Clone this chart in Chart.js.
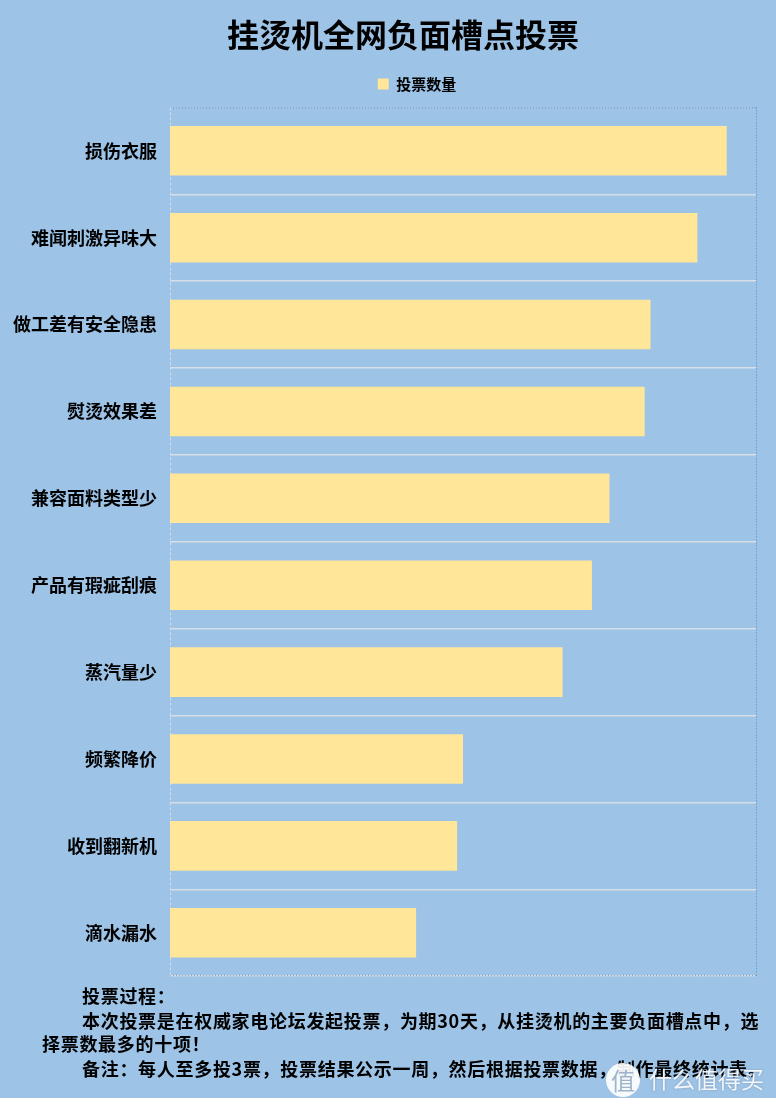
<!DOCTYPE html>
<html lang="zh">
<head>
<meta charset="utf-8">
<title>挂烫机全网负面槽点投票</title>
<script src="https://cdn.jsdelivr.net/npm/chart.js"></script>
<style>
  body { margin: 0; background: #9DC3E6; width: 776px; height: 1108px; position: relative; overflow: hidden;
         font-family: "Noto Sans CJK SC", sans-serif; }
  #wrap { position: absolute; left: 0; top: 0; width: 776px; height: 1000px; }
  .note { position: absolute; font-size: 18px; font-weight: bold; line-height: 24px; color: #000;
          letter-spacing: 0.7px; white-space: nowrap; }
  #strip { position: absolute; left: 0; top: 1098px; width: 776px; height: 10px; background: #fff; }
  #logo { position: absolute; left: 606px; top: 1063px; width: 34px; height: 34px; border-radius: 50%;
          background: rgba(255,255,255,0.92); color: #9DB4CC; font-size: 24px; line-height: 34px; text-align: center; }
  #brand { position: absolute; left: 649px; top: 1063px; font-size: 23px; line-height: 30px; color: rgba(255,255,255,0.9);
           text-shadow: 0 0 2px rgba(90,110,140,0.5); }
</style>
</head>
<body>
<div id="wrap"><canvas id="myChart"></canvas></div>
<div class="note" style="left:82px; top:983px;">投票过程：</div>
<div class="note" style="left:82px; top:1008px;">本次投票是在权威家电论坛发起投票，为期30天，从挂烫机的主要负面槽点中，选</div>
<div class="note" style="left:42px; top:1031px;">择票数最多的十项！</div>
<div class="note" style="left:82px; top:1056px;">备注：每人至多投3票，投票结果公示一周，然后根据投票数据，制作最终统计表。</div>
<div id="strip"></div>
<div id="logo">值</div>
<div id="brand">什么值得买</div>
<script>
const categories = [
  "损伤衣服",
  "难闻刺激异味大",
  "做工差有安全隐患",
  "熨烫效果差",
  "兼容面料类型少",
  "产品有瑕疵刮痕",
  "蒸汽量少",
  "频繁降价",
  "收到翻新机",
  "滴水漏水",
];
const votes = [95, 90, 82, 81, 75, 72, 67, 50, 49, 42];
const seriesName = "投票数量";

const font = "'Noto Sans CJK SC', sans-serif";

// dotted / dashed frame round the plot area; title and legend nudged like the original
const frame = {
  id: "frame",
  afterLayout(chart) {
    chart.titleBlock.left += 21;
    chart.titleBlock.right += 21;
    chart.legend.left += 35;
    chart.legend.right += 35;
    chart.legend.top -= 6;
    chart.legend.bottom -= 6;
  },
  beforeDatasetsDraw(chart) {
    const { ctx, chartArea: a } = chart;
    ctx.save();
    ctx.lineWidth = 1;
    ctx.setLineDash([1, 2]);
    ctx.strokeStyle = "#8296ad";
    ctx.beginPath();
    ctx.moveTo(a.left, a.top + 0.5);
    ctx.lineTo(a.right, a.top + 0.5);
    ctx.moveTo(a.left, a.bottom - 0.5);
    ctx.lineTo(a.right, a.bottom - 0.5);
    ctx.stroke();
    ctx.strokeStyle = "#4a8ad0";
    ctx.beginPath();
    ctx.moveTo(a.right + 0.5, a.top);
    ctx.lineTo(a.right + 0.5, a.bottom);
    ctx.stroke();
    ctx.setLineDash([3, 2]);
    ctx.strokeStyle = "#d4dbe4";
    ctx.beginPath();
    ctx.moveTo(a.left + 0.5, a.top);
    ctx.lineTo(a.left + 0.5, a.bottom);
    ctx.stroke();
    ctx.restore();
  },
};

const ctx = document.getElementById("myChart");

new Chart(ctx, {
  type: "bar",
  data: {
    labels: categories,
    datasets: [
      {
        label: seriesName,
        data: votes,
        backgroundColor: "#FFE699",
        borderWidth: 0,
        categoryPercentage: 1,
        barPercentage: 0.57,
      },
    ],
  },
  options: {
    indexAxis: "y",
    responsive: true,
    maintainAspectRatio: false,
    animation: false,
    layout: {
      padding: { left: 8, right: 20, top: 0, bottom: 10 },
    },
    scales: {
      x: {
        display: false,
        min: 0,
        max: 100,
      },
      y: {
        afterFit(scale) {
          scale.width = 162;
        },
        border: { display: false },
        grid: {
          drawTicks: false,
          lineWidth: 1.5,
          color: (c) => (c.index === 0 || c.index >= categories.length ? "transparent" : "#D6DEE8"),
        },
        ticks: {
          color: "#000",
          padding: 13,
          font: { family: font, size: 18, weight: "bold" },
        },
      },
    },
    plugins: {
      title: {
        display: true,
        text: "挂烫机全网负面槽点投票",
        color: "#000",
        font: { family: font, size: 32, weight: "bold" },
        padding: { top: 16, bottom: 6 },
      },
      legend: {
        position: "top",
        labels: {
          color: "#000",
          boxWidth: 11,
          boxHeight: 11,
          padding: 22,
          font: { family: font, size: 15, weight: "bold" },
        },
      },
      tooltip: { enabled: false },
    },
  },
  plugins: [frame],
});
</script>
</body>
</html>
